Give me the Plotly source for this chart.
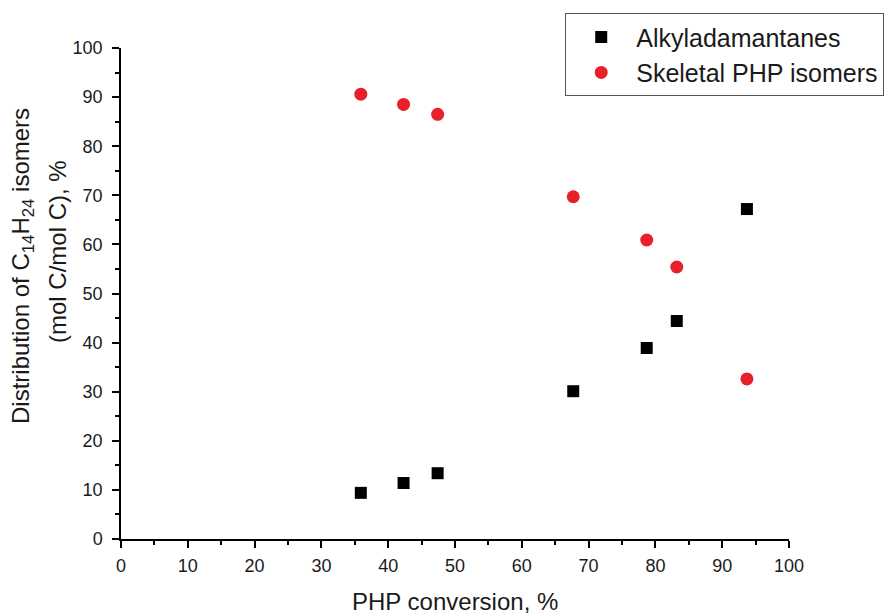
import plotly.graph_objects as go

conversion = [35.9, 42.3, 47.4, 67.7, 78.7, 83.2, 93.7]
alkyladamantanes = [9.4, 11.4, 13.4, 30.1, 38.9, 44.4, 67.2]
skeletal_php = [90.6, 88.5, 86.5, 69.7, 60.9, 55.4, 32.6]

x_ticks = list(range(0, 101, 10))
y_ticks = list(range(0, 101, 10))

FONT = "Liberation Sans, Arial, sans-serif"
TXT = "#1a1a1a"

fig = go.Figure()
fig.add_trace(go.Scatter(
    x=conversion, y=alkyladamantanes, mode="markers", name="Alkyladamantanes",
    marker=dict(symbol="square", size=12, color="black"),
))
fig.add_trace(go.Scatter(
    x=conversion, y=skeletal_php, mode="markers", name="Skeletal PHP isomers",
    marker=dict(symbol="circle", size=13, color="#e8202a"),
))

axis_common = dict(
    showline=True, linecolor="black", linewidth=1.5, showgrid=False, zeroline=False,
    ticks="outside", ticklen=7, tickwidth=1.5, tickcolor="black",
    minor=dict(ticks="outside", ticklen=4, tickwidth=1.5, tickcolor="black", dtick=5),
    tickfont=dict(family=FONT, size=18, color=TXT),
    automargin=False,
)

fig.update_xaxes(range=[0, 100], tickvals=x_ticks, ticktext=[str(v) for v in x_ticks],
                 ticklabelstandoff=3,
                 **axis_common)
fig.update_yaxes(range=[0, 100], tickvals=y_ticks, ticktext=[str(v) for v in y_ticks],
                 ticklabelstandoff=6,
                 **axis_common)

# x-axis title
fig.add_annotation(
    text="PHP conversion, %", xref="paper", yref="paper",
    x=0.5, y=(539 - 601) / 491, xanchor="center", yanchor="middle",
    showarrow=False, font=dict(family=FONT, size=24, color=TXT),
)
# y-axis title (two lines)
fig.add_annotation(
    text="Distribution of C<sub>14</sub>H<sub>24</sub> isomers",
    xref="paper", yref="paper", x=(22 - 121) / 668, y=(539 - 266) / 491,
    xanchor="center", yanchor="middle",
    textangle=-90, showarrow=False, font=dict(family=FONT, size=24, color=TXT),
)
fig.add_annotation(
    text="(mol C/mol C), %",
    xref="paper", yref="paper", x=(57 - 121) / 668, y=(539 - 252) / 491,
    xanchor="center", yanchor="middle",
    textangle=-90, showarrow=False, font=dict(family=FONT, size=24, color=TXT),
)

fig.update_layout(
    width=889, height=615,
    margin=dict(l=121, r=100, t=48, b=76, autoexpand=False),
    paper_bgcolor="white", plot_bgcolor="white",
    showlegend=True,
    legend=dict(x=0.665, y=1.071, xanchor="left", yanchor="top",
                bordercolor="#555", borderwidth=1, bgcolor="white",
                font=dict(family=FONT, size=25, color=TXT), itemwidth=60,
                tracegroupgap=0),
)

fig.write_html("out.html")
